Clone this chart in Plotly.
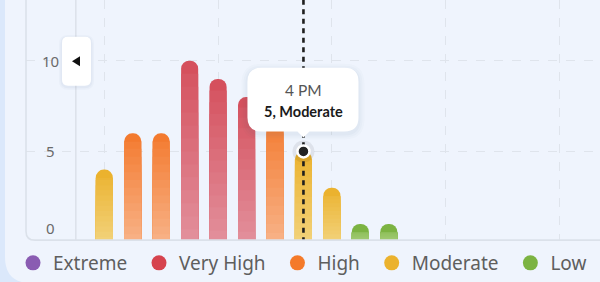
import plotly.graph_objects as go

# ---------------- data ----------------
hours = [9, 10, 11, 12, 13, 14, 15, 16, 17, 18, 19]
hour_labels = ["9 AM", "10 AM", "11 AM", "12 PM", "1 PM", "2 PM", "3 PM",
               "4 PM", "5 PM", "6 PM", "7 PM"]
uv_index = [4, 6, 6, 10, 9, 8, 7, 5, 3, 1, 1]
levels = ["Extreme", "Very High", "High", "Moderate", "Low"]
level_min = [11, 8, 6, 3, 0]
selected = 7  # 4 PM
y_ticks = [0, 5, 10]

# ---------------- styles ----------------
top_color = {"Extreme": "#8e5cb5", "Very High": "#d5505d", "High": "#f37a2f",
             "Moderate": "#ebb22e", "Low": "#7cb342"}
bottom_color = {"Extreme": "#b99ad3", "Very High": "#e2909c", "High": "#f8b287",
                "Moderate": "#f2d27b", "Low": "#a6cd79"}
legend_color = {"Extreme": "#8a5cb2", "Very High": "#d6434e", "High": "#f47a2a",
                "Moderate": "#ebb22e", "Low": "#7cb342"}

W, H = 600, 282
PL, PR, PT, PB = 26, 600, 0, 241
X_REF_PX, X_PER = 104.3, 28.45
ZERO_PX, Y_PER = 243, 18.2
x_range = [hours[0] - (X_REF_PX - PL) / X_PER, hours[0] + (PR - X_REF_PX) / X_PER]
y_range = [(ZERO_PX - PB) / Y_PER, (ZERO_PX - PT) / Y_PER]


def level_of(v):
    for name, lo in zip(levels, level_min):
        if v >= lo:
            return name
    return levels[-1]


def hex2rgb(h):
    h = h.lstrip("#")
    return [int(h[i:i + 2], 16) for i in (0, 2, 4)]


def mix(c1, c2, t):
    a, b = hex2rgb(c1), hex2rgb(c2)
    return "rgb(%d,%d,%d)" % tuple(round(a[i] + (b[i] - a[i]) * t) for i in range(3))


def xpx(xd):
    return X_REF_PX + (xd - hours[0]) * X_PER


def ypx(yd):
    return ZERO_PX - yd * Y_PER


def PX(p):
    return p / W


def PY(p):
    return 1 - p / H


bar_levels = [level_of(v) for v in uv_index]

fig = go.Figure()

BAR_W = 0.6
cap = (BAR_W * X_PER / 2) / Y_PER
fig.add_trace(go.Bar(x=hours, y=uv_index, width=BAR_W,
                     marker=dict(color=[top_color[l] for l in bar_levels],
                                 cornerradius="50%", line=dict(width=0)),
                     hoverinfo="skip", showlegend=False))
N = 14
for k in range(1, N):
    hs = [min(v * (N - k) / N, v - cap) for v in uv_index]
    cols = [mix(top_color[l], bottom_color[l], (k + 0.5) / N) for l in bar_levels]
    fig.add_trace(go.Bar(x=hours, y=hs, width=BAR_W,
                         marker=dict(color=cols, line=dict(width=0)),
                         hoverinfo="skip", showlegend=False))

sx, sy = hours[selected], uv_index[selected]
fig.add_trace(go.Scatter(x=[sx, sx], y=[0, y_range[1]], mode="lines",
                         line=dict(color="#1e1e1e", width=2.6, dash="5px,4.5px"),
                         hoverinfo="skip", showlegend=False))
fig.add_trace(go.Scatter(x=[sx], y=[sy], mode="markers",
                         marker=dict(size=22, color="rgba(0,0,0,0.07)"),
                         hoverinfo="skip", showlegend=False))
fig.add_trace(go.Scatter(x=[sx], y=[sy], mode="markers",
                         marker=dict(size=12, color="#222222",
                                     line=dict(color="white", width=2.5)),
                         hoverinfo="skip", showlegend=False))

PAD = "\u00a0\u200a"
for i, name in enumerate(levels):
    label = name + (PAD if i < len(levels) - 1 else "")
    fig.add_trace(go.Scatter(x=[None], y=[None], mode="markers", name=label,
                             marker=dict(size=15, color=legend_color[name])))

shapes = []
# card
cr = 26
card = (f"M {PX(5)},{PY(-10)} L {PX(5)},{PY(284 - cr)} "
        f"Q {PX(5)},{PY(284)} {PX(5 + cr)},{PY(284)} L {PX(620)},{PY(284)} "
        f"L {PX(620)},{PY(-10)} Z")
shapes.append(dict(type="path", path=card, xref="paper", yref="paper",
                   fillcolor="#eff4fd", line=dict(width=0), layer="below"))
# solid axis line at 8 AM
shapes.append(dict(type="line", xref="x", yref="paper", x0=hours[0] - 1, x1=hours[0] - 1,
                   y0=PY(PB), y1=1, line=dict(color="#d9dee7", width=1.3), layer="below"))
# frame
fr = 9
frame = (f"M {PX(PL)},{PY(-5)} L {PX(PL)},{PY(PB - fr)} "
         f"Q {PX(PL)},{PY(PB)} {PX(PL + fr)},{PY(PB)} L {PX(620)},{PY(PB)}")
shapes.append(dict(type="path", path=frame, xref="paper", yref="paper",
                   line=dict(color="#dbe1ea", width=1.6), layer="above"))

# tooltip
tcx = xpx(sx)
tb = ypx(sy) - 20
tt = tb - 64
tl, tr = tcx - 56, tcx + 55
r = 14


def rrect(l, t, rr, b, rad, pointer=False):
    p = (f"M {PX(l + rad)},{PY(t)} L {PX(rr - rad)},{PY(t)} "
         f"Q {PX(rr)},{PY(t)} {PX(rr)},{PY(t + rad)} L {PX(rr)},{PY(b - rad)} "
         f"Q {PX(rr)},{PY(b)} {PX(rr - rad)},{PY(b)} ")
    if pointer:
        p += (f"L {PX(tcx + 6)},{PY(b)} L {PX(tcx)},{PY(b + 6)} "
              f"L {PX(tcx - 6)},{PY(b)} ")
    p += (f"L {PX(l + rad)},{PY(b)} Q {PX(l)},{PY(b)} {PX(l)},{PY(b - rad)} "
          f"L {PX(l)},{PY(t + rad)} Q {PX(l)},{PY(t)} {PX(l + rad)},{PY(t)} Z")
    return p


for i, a in enumerate([0.02, 0.025, 0.03]):
    g = 6 - 2 * i
    shapes.append(dict(type="path", path=rrect(tl - g, tt - g + 2, tr + g, tb + g + 2, r + g),
                       xref="paper", yref="paper", fillcolor=f"rgba(60,80,120,{a})",
                       line=dict(width=0), layer="above"))
shapes.append(dict(type="path", path=rrect(tl, tt, tr, tb, r, pointer=True),
                   xref="paper", yref="paper", fillcolor="white",
                   line=dict(width=0), layer="above"))

# scroll button
bl, bt, br, bb = 62, 37, 91, 86
for i, a in enumerate([0.03, 0.04]):
    g = 3 - 1.5 * i
    shapes.append(dict(type="path", path=rrect(bl - g, bt - g + 1, br + g, bb + g + 1, 6 + g),
                       xref="paper", yref="paper", fillcolor=f"rgba(60,80,120,{a})",
                       line=dict(width=0), layer="above"))
shapes.append(dict(type="path", path=rrect(bl, bt, br, bb, 6), xref="paper", yref="paper",
                   fillcolor="white", line=dict(width=0), layer="above"))
bcx, bcy = (bl + br) / 2, (bt + bb) / 2
shapes.append(dict(type="path",
                   path=f"M {PX(bcx + 3.5)},{PY(bcy - 5)} L {PX(bcx + 3.5)},{PY(bcy + 5)} "
                        f"L {PX(bcx - 4.5)},{PY(bcy)} Z",
                   xref="paper", yref="paper", fillcolor="#111111",
                   line=dict(width=0), layer="above"))

FONT = "Noto Sans"
TIP_FONT = "Lato"
annotations = []
for v in y_ticks:
    annotations.append(dict(x=PX(50), y=PY(min(ypx(v), PB - 12)), xref="paper", yref="paper",
                            text=str(v), showarrow=False, xanchor="center", yanchor="middle",
                            font=dict(family=FONT, size=15, color="#6a6a6a")))
annotations.append(dict(x=PX(tcx), y=PY(tt + 22), xref="paper", yref="paper",
                        text=hour_labels[selected], showarrow=False,
                        xanchor="center", yanchor="middle",
                        font=dict(family=TIP_FONT, size=15.5, color="#555555")))
annotations.append(dict(x=PX(tcx), y=PY(tt + 44), xref="paper", yref="paper",
                        text=f"<b>{sy}, {bar_levels[selected]}</b>", showarrow=False,
                        xanchor="center", yanchor="middle",
                        font=dict(family=TIP_FONT, size=14.5, color="#1a1a1a")))

fig.update_layout(
    width=W, height=H,
    margin=dict(l=0, r=0, t=0, b=0),
    paper_bgcolor="#dbe8fb",
    plot_bgcolor="rgba(0,0,0,0)",
    barmode="overlay",
    showlegend=True,
    legend=dict(orientation="h", x=PX(13), y=PY(264), xanchor="left", yanchor="middle",
                font=dict(family=FONT, size=19, color="#5e5e5e"),
                bgcolor="rgba(0,0,0,0)", itemsizing="trace", itemclick=False,
                itemdoubleclick=False),
    xaxis=dict(domain=[PX(PL), 1], range=x_range, showticklabels=False, ticks="",
               showgrid=True, gridcolor="#dfe4ec", griddash="dash", gridwidth=1,
               tick0=hours[0], dtick=4, zeroline=False, showline=False, fixedrange=True),
    yaxis=dict(domain=[PY(PB), 1], range=y_range, showticklabels=False, ticks="",
               showgrid=True, gridcolor="#dfe4ec", griddash="dash", gridwidth=1,
               tick0=0, dtick=5, zeroline=False, showline=False, fixedrange=True),
    shapes=shapes,
    annotations=annotations,
    hovermode=False,
)

fig.write_html("out.html", config={"displayModeBar": False})
